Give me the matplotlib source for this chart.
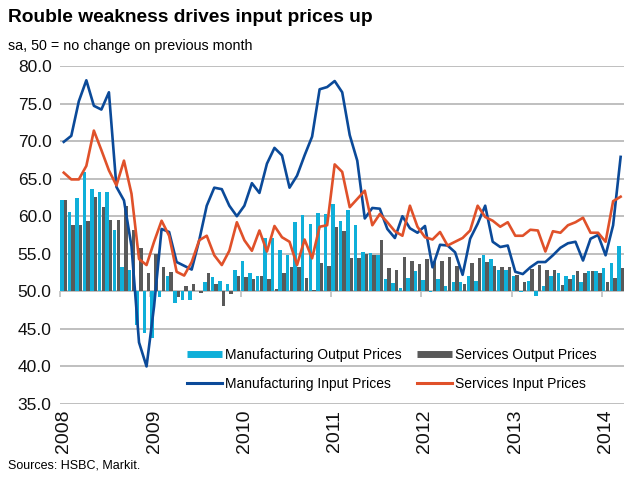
import numpy as np
import matplotlib
matplotlib.use("Agg")
import matplotlib.pyplot as plt
from matplotlib.lines import Line2D

plt.rcParams['font.family'] = ['Liberation Sans', 'DejaVu Sans']

# monthly index values, Jan 2008 .. Mar 2014 (sa, 50 = no change)
years = ['2008', '2009', '2010', '2011', '2012', '2013', '2014']

mfg_output = [62.2, 60.5, 62.4, 65.9, 63.6, 63.2, 63.2, 58.2, 53.3, 52.9,
              45.5, 44.4, 43.8, 49.3, 52.1, 48.4, 48.8, 48.8, 50.1, 51.2,
              51.9, 51.4, 51.0, 52.8, 54.0, 52.5, 52.1, 57.1, 57.1, 55.5,
              54.9, 59.2, 60.1, 58.9, 60.4, 60.3, 61.6, 59.3, 60.8, 58.8,
              55.2, 55.1, 54.9, 51.6, 51.1, 50.4, 51.8, 52.7, 51.5, 49.9,
              51.6, 50.7, 51.3, 51.2, 52.1, 51.4, 54.8, 54.3, 52.9, 52.9,
              52.0, 49.9, 51.4, 49.4, 50.7, 52.0, 52.4, 52.1, 52.2, 51.2,
              52.7, 52.7, 53.1, 53.8, 56.0]

svc_output = [62.2, 58.8, 58.8, 59.4, 62.5, 61.2, 59.5, 59.5, 61.3, 58.1,
              55.8, 52.4, 55.0, 53.3, 52.6, 49.2, 50.7, 51.0, 49.8, 52.4,
              51.0, 48.1, 49.7, 52.1, 51.9, 51.7, 52.1, 51.6, 50.3, 52.4,
              53.2, 53.3, 51.8, 50.2, 53.8, 53.4, 58.5, 58.0, 54.4, 54.4,
              55.0, 54.9, 56.8, 53.1, 52.9, 54.6, 54.0, 53.6, 54.3, 54.0,
              54.1, 54.6, 53.4, 51.0, 53.8, 54.4, 53.9, 53.4, 53.2, 53.2,
              52.2, 51.2, 53.0, 53.5, 52.8, 52.8, 50.9, 51.6, 52.7, 52.5,
              52.7, 52.5, 51.2, 51.8, 53.1]

mfg_input = [69.9, 70.7, 75.3, 78.1, 74.7, 74.2, 76.5, 63.9, 62.1, 56.0,
             43.2, 40.0, 48.0, 58.3, 57.9, 53.9, 53.4, 52.9, 56.8, 61.4,
             63.8, 63.6, 61.4, 60.0, 61.4, 64.4, 63.1, 67.0, 69.1, 68.1,
             63.8, 65.4, 68.1, 70.6, 76.9, 77.2, 78.0, 76.5, 70.8, 67.4,
             59.7, 61.1, 61.0, 58.3, 57.1, 60.0, 58.4, 57.8, 58.7, 53.2,
             56.2, 56.1, 55.2, 52.2, 57.0, 59.0, 61.4, 56.6, 55.9, 56.1,
             52.6, 52.3, 53.2, 53.9, 53.9, 54.8, 55.8, 56.4, 56.6, 54.1,
             57.0, 57.5, 54.8, 58.8, 67.9]

svc_input = [65.8, 64.9, 64.9, 66.7, 71.4, 68.8, 66.1, 64.1, 67.4, 63.0,
             54.3, 53.5, 56.6, 59.4, 57.4, 52.6, 52.1, 53.9, 56.8, 57.4,
             54.8, 53.5, 55.4, 59.2, 56.8, 55.4, 58.1, 55.3, 58.7, 57.2,
             56.6, 53.5, 56.9, 54.4, 58.6, 58.8, 66.9, 65.9, 61.2, 62.3,
             63.4, 58.8, 60.3, 59.2, 58.0, 57.4, 61.4, 58.6, 57.2, 56.9,
             57.9, 56.1, 56.6, 57.1, 58.1, 61.4, 59.9, 59.4, 58.6, 59.2,
             57.4, 57.4, 58.2, 58.1, 55.3, 58.0, 57.8, 58.8, 59.2, 59.8,
             57.8, 57.8, 56.6, 62.0, 62.6]

CYAN = '#0FAFD9'
GREY = '#595959'
BLUE = '#0B4A99'
RED = '#E0512A'
GRID = '#BFBFBF'

W, H = 640, 483
fig = plt.figure(figsize=(W / 100, H / 100), dpi=100)
ax = fig.add_axes([60 / W, 1 - 404 / H, 564.4 / W, 338 / H])

x = np.arange(len(mfg_output))
base = 50
ax.bar(x - 0.245, np.array(mfg_output) - base, width=0.46, bottom=base,
       color=CYAN, zorder=2)
ax.bar(x + 0.245, np.array(svc_output) - base, width=0.46, bottom=base,
       color=GREY, zorder=2)
ax.plot(x, mfg_input, color=BLUE, lw=1.9, zorder=3)
ax.plot(x, svc_input, color=RED, lw=1.9, zorder=3)

ax.set_xlim(-0.5, len(x) - 0.5)
ax.set_ylim(35, 80)
ax.set_yticks(np.arange(35, 81, 5))
ax.set_yticklabels([f"{v:.1f}" for v in np.arange(35, 81, 5)])
ax.yaxis.grid(True, color=GRID, lw=1.4)
ax.set_axisbelow(True)
for s in ax.spines.values():
    s.set_visible(False)
ax.tick_params(axis='y', length=0, pad=6, labelsize=12.5, labelcolor='#111111')

ax.set_xticks(np.arange(0, len(x), 12))
ax.set_xticklabels(years, rotation=90)
ax.tick_params(axis='x', length=0, pad=4, labelsize=14, labelcolor='#111111')

# year tick marks sit on the 50 line
sec = ax.secondary_xaxis((base - 35) / 45)
sec.set_xticks(np.arange(-0.5, len(x), 12))
sec.xaxis.set_ticks_position('bottom')
sec.tick_params(axis='x', direction='out', length=4, width=1.2, color=GRID,
                labelbottom=False, labeltop=False)
for s in sec.spines.values():
    s.set_visible(False)

handles = [
    Line2D([], [], color=CYAN, lw=5, solid_capstyle='butt'),
    Line2D([], [], color=BLUE, lw=2.2),
    Line2D([], [], color=GREY, lw=5, solid_capstyle='butt'),
    Line2D([], [], color=RED, lw=2.2),
]
labels = ['Manufacturing Output Prices', 'Manufacturing Input Prices',
          'Services Output Prices', 'Services Input Prices']
ax.legend(handles, labels, ncol=2, frameon=False, fontsize=10,
          loc='upper left', bbox_to_anchor=((187 - 60) / 564.4, 1 - (348 - 66) / 338),
          borderpad=0, borderaxespad=0, handlelength=2.5, handletextpad=0.25,
          columnspacing=1.1, labelspacing=1.05)

fig.text(8 / W, 1 - 18 / H, "Rouble weakness drives input prices up",
         fontsize=13.8, fontweight='bold', va='center', ha='left')
fig.text(8 / W, 1 - 46 / H, "sa, 50 = no change on previous month",
         fontsize=10.3, va='center', ha='left')
fig.text(8 / W, 1 - 466 / H, "Sources: HSBC, Markit.",
         fontsize=9, va='center', ha='left')

fig.savefig("out.png", dpi=100)
